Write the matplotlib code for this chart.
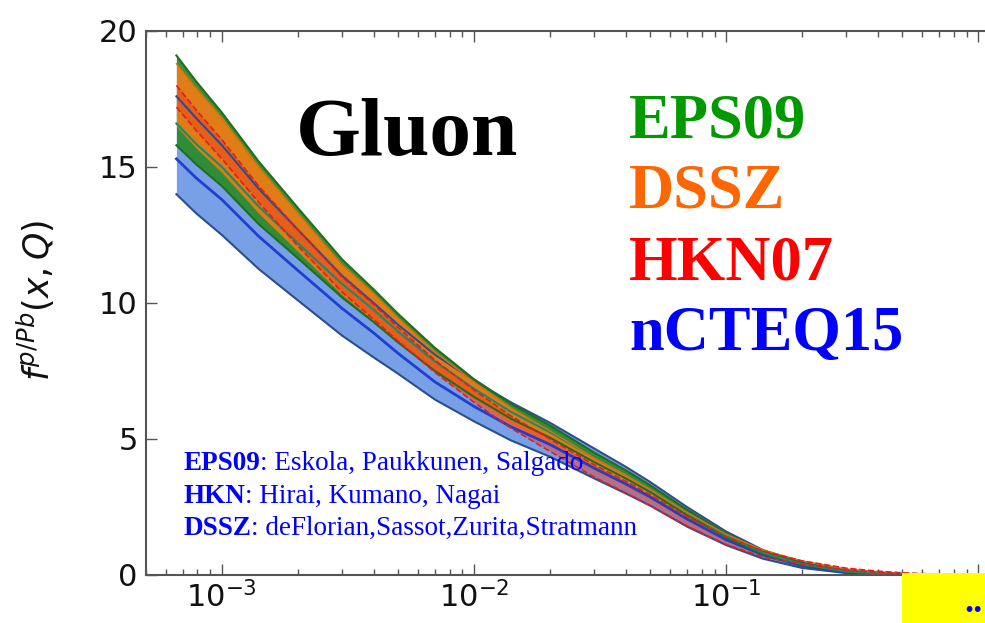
import matplotlib
matplotlib.use("Agg")
import matplotlib.pyplot as plt
from matplotlib.patches import Rectangle
from matplotlib.ticker import FixedLocator, FixedFormatter

x_vals = [6.6e-4, 7.9e-4, 1e-3, 1.4e-3, 2e-3, 3e-3, 4e-3, 5e-3, 7e-3, 1e-2, 1.4e-2, 2e-2,
          3e-2, 4e-2, 5e-2, 7e-2, 0.1, 0.14, 0.2, 0.3, 0.4, 0.5, 0.7, 1.0]

# nCTEQ15 (blue)
ncteq_hi = [17.6, 16.8, 15.8, 14.2, 12.7, 11.0, 10.0, 9.2, 8.1, 7.15, 6.35, 5.6,
            4.65, 3.98, 3.42, 2.5, 1.6, 0.92, 0.45, 0.14, 0.05, 0.01, 0.0, 0.0]
ncteq_mid = [15.3, 14.6, 13.8, 12.45, 11.2, 9.8, 8.9, 8.15, 7.1, 6.2, 5.45, 4.8,
             3.93, 3.35, 2.87, 2.06, 1.3, 0.74, 0.34, 0.1, 0.04, 0.01, 0.0, 0.0]
ncteq_lo = [14.0, 13.3, 12.5, 11.25, 10.1, 8.8, 8.0, 7.4, 6.45, 5.65, 4.95, 4.35,
            3.55, 3.0, 2.55, 1.78, 1.1, 0.6, 0.26, 0.07, 0.02, 0.0, 0.0, 0.0]

# EPS09 (green)
eps_hi = [19.1, 18.15, 17.0, 15.2, 13.5, 11.6, 10.5, 9.6, 8.35, 7.2, 6.3, 5.5,
          4.5, 3.85, 3.3, 2.4, 1.52, 0.88, 0.44, 0.15, 0.07, 0.03, 0.01, 0.0]
eps_mid = [16.6, 15.85, 15.0, 13.55, 12.2, 10.7, 9.75, 8.95, 7.85, 6.85, 6.0, 5.25,
           4.32, 3.7, 3.17, 2.3, 1.45, 0.82, 0.4, 0.13, 0.06, 0.02, 0.0, 0.0]
eps_lo = [15.8, 15.1, 14.3, 12.9, 11.65, 10.2, 9.3, 8.55, 7.5, 6.55, 5.75, 5.05,
          4.15, 3.55, 3.05, 2.2, 1.38, 0.77, 0.37, 0.12, 0.05, 0.02, 0.0, 0.0]

# DSSZ (orange)
dssz_hi = [18.8, 17.9, 16.8, 15.0, 13.3, 11.4, 10.35, 9.45, 8.2, 7.1, 6.15, 5.3,
           4.3, 3.68, 3.15, 2.3, 1.5, 0.92, 0.52, 0.22, 0.12, 0.06, 0.02, 0.0]
dssz_lo = [16.5, 15.7, 14.8, 13.3, 11.9, 10.3, 9.35, 8.55, 7.45, 6.45, 5.55, 4.75,
           3.85, 3.27, 2.78, 1.98, 1.25, 0.75, 0.42, 0.16, 0.08, 0.04, 0.01, 0.0]

# HKN07 (red)
hkn_hi = [18.0, 17.1, 16.0, 14.3, 12.7, 10.95, 9.95, 9.1, 7.9, 6.8, 5.85, 5.0,
          4.05, 3.45, 2.95, 2.15, 1.4, 0.88, 0.52, 0.25, 0.14, 0.08, 0.03, 0.0]
hkn_lo = [17.2, 16.35, 15.3, 13.7, 12.1, 10.4, 9.4, 8.6, 7.45, 6.35, 5.4, 4.55,
          3.6, 3.02, 2.55, 1.8, 1.12, 0.66, 0.4, 0.18, 0.1, 0.05, 0.02, 0.0]

y_ticks = [0, 5, 10, 15, 20]
x_ticks = [1e-3, 1e-2, 1e-1, 1.0]
x_tick_labels = ["$10^{-3}$", "$10^{-2}$", "$10^{-1}$", ""]
set_names = ["EPS09", "DSSZ", "HKN07", "nCTEQ15"]
set_colors = ["#009900", "#ff6600", "#ff0000", "#0000ff"]
refs = [("EPS09", ": Eskola, Paukkunen, Salgado"),
        ("HKN", ": Hirai, Kumano, Nagai"),
        ("DSSZ", ": deFlorian,Sassot,Zurita,Stratmann")]

W, H = 985, 623
plt.rcParams["mathtext.fontset"] = "dejavusans"
fig = plt.figure(figsize=(W / 100, H / 100), dpi=100)

# axes reaches past the right edge of the picture, like the cropped original
ax = fig.add_axes([146 / W, (H - 575) / H, (1054 - 146) / W, 544 / H])

ax.fill_between(x_vals, ncteq_lo, ncteq_hi, color="#5f8fe3", alpha=0.85, lw=0)
ax.plot(x_vals, ncteq_hi, color="#2c4f8c", lw=1.5)
ax.plot(x_vals, ncteq_lo, color="#2c4f8c", lw=1.5)
ax.plot(x_vals, ncteq_mid, color="#1f3fd0", lw=2)

ax.fill_between(x_vals, eps_lo, eps_hi, color="#2e8b2e", alpha=0.95, lw=0)
ax.plot(x_vals, eps_hi, color="#1f6e1f", lw=1.5)
ax.plot(x_vals, eps_lo, color="#1f6e1f", lw=1.5)
ax.plot(x_vals, eps_mid, color="#1a8a6a", lw=1.5)

ax.fill_between(x_vals, dssz_lo, dssz_hi, color="#ff7a10", alpha=0.85, lw=0)
ax.plot(x_vals, dssz_hi, color="#e0700a", lw=1)

ax.fill_between(x_vals, hkn_lo, hkn_hi, color="#f03a20", alpha=0.45, lw=0)
ax.plot(x_vals, hkn_hi, color="#e02020", lw=1.2, ls="--")
ax.plot(x_vals, hkn_lo, color="#e02020", lw=1.2, ls="--")

ax.set_xscale("log")
ax.set_xlim(5e-4, 2.0)
ax.set_ylim(0, 20)
ax.set_yticks(y_ticks)
ax.xaxis.set_major_locator(FixedLocator(x_ticks))
ax.xaxis.set_major_formatter(FixedFormatter(x_tick_labels))

for s in ax.spines.values():
    s.set_color("#555555")
    s.set_linewidth(1.5)
ax.tick_params(which="both", direction="in", top=True, right=True, colors="#555555",
               labelcolor="#111111", labelsize=22)
ax.tick_params(which="major", length=8, width=1)
ax.tick_params(which="minor", length=4, width=1)
ax.tick_params(axis="y", pad=6)
ax.tick_params(axis="x", pad=4)

ax.set_ylabel("$f^{p/Pb}(x,Q)$", fontsize=25, color="#111111")
ax.yaxis.set_label_coords(-0.098, 0.505)

fig.text(296 / W, 1 - 155 / H, "Gluon", family="Liberation Serif", weight="bold",
         fontsize=60, color="black", va="baseline")

baselines = [138, 208, 280, 350]
for name, col, b in zip(set_names, set_colors, baselines):
    fig.text(629 / W, 1 - b / H, name, family="Liberation Serif", weight="bold",
             fontsize=45, color=col, va="baseline")

ref_base = [470, 503, 535]
for (bold, rest), b in zip(refs, ref_base):
    t = fig.text(183 / W, 1 - b / H, bold, family="Liberation Serif", weight="bold",
                 fontsize=19.5, color="#0000ff", va="baseline")
    ax.annotate(rest, xy=(1, 0), xycoords=t, va="bottom", ha="left",
                family="Liberation Serif", fontsize=19.5, color="#0000ff",
                annotation_clip=False)

fig.patches.append(Rectangle((902 / W, 0), 0.2, 50 / H, transform=fig.transFigure,
                             facecolor="#ffff00", edgecolor="none", zorder=5))
fig.text(964 / W, 1 - 603 / H, "..", family="Liberation Serif", weight="bold",
         fontsize=26, color="#0000ff", va="center", zorder=6)

fig.savefig("out.png", dpi=100)
